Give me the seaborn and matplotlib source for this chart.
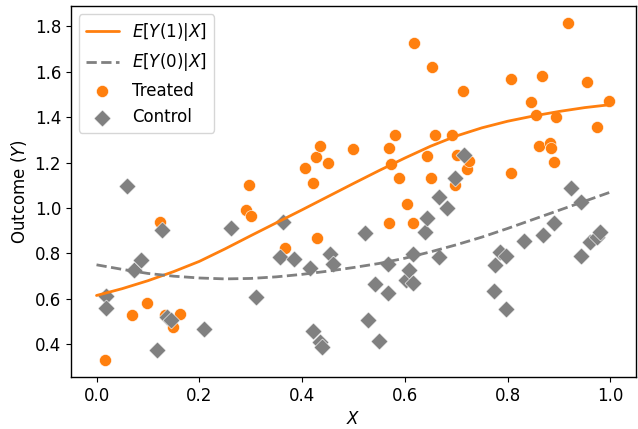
import numpy as np
import pandas as pd
import matplotlib as mpl
mpl.use('Agg')
import matplotlib.pyplot as plt
import seaborn as sns

# fitted curves
curve_x = [0.0, 0.05, 0.1, 0.15, 0.2, 0.25, 0.3, 0.35, 0.4, 0.45, 0.5,
           0.55, 0.6, 0.65, 0.7, 0.75, 0.8, 0.85, 0.9, 0.95, 1.0]
mu1 = [0.615, 0.645, 0.68, 0.72, 0.765, 0.82, 0.878, 0.935, 0.992, 1.05, 1.108,
       1.165, 1.22, 1.272, 1.317, 1.353, 1.382, 1.405, 1.425, 1.442, 1.455]
mu0 = [0.75, 0.73, 0.712, 0.70, 0.692, 0.688, 0.69, 0.697, 0.708, 0.722, 0.738,
       0.756, 0.779, 0.807, 0.838, 0.872, 0.91, 0.95, 0.99, 1.03, 1.07]

# treated units
x_treated = [0.017, 0.069, 0.099, 0.123, 0.133, 0.149, 0.163, 0.29, 0.297, 0.30,
             0.367, 0.406, 0.422, 0.428, 0.43, 0.435, 0.451, 0.499, 0.569, 0.569,
             0.573, 0.58, 0.589, 0.604, 0.615, 0.617, 0.643, 0.65, 0.652, 0.658,
             0.692, 0.697, 0.701, 0.713, 0.72, 0.724, 0.806, 0.806, 0.845, 0.855,
             0.862, 0.866, 0.882, 0.885, 0.89, 0.895, 0.918, 0.954, 0.974, 0.997]
y_treated = [0.33, 0.531, 0.582, 0.939, 0.528, 0.476, 0.532, 0.993, 1.10, 0.964,
             0.826, 1.178, 1.108, 1.225, 0.87, 1.272, 1.20, 1.258, 1.262, 0.936,
             1.192, 1.32, 1.13, 1.017, 0.936, 1.725, 1.229, 1.13, 1.622, 1.32,
             1.32, 1.10, 1.233, 1.516, 1.17, 1.208, 1.567, 1.155, 1.466, 1.409,
             1.275, 1.58, 1.285, 1.265, 1.203, 1.401, 1.815, 1.555, 1.355, 1.472]

# control units
x_control = [0.019, 0.019, 0.059, 0.073, 0.086, 0.117, 0.128, 0.138, 0.145, 0.21,
             0.262, 0.31, 0.358, 0.363, 0.384, 0.415, 0.422, 0.435, 0.438, 0.454,
             0.46, 0.522, 0.528, 0.541, 0.549, 0.567, 0.567, 0.602, 0.608, 0.615,
             0.615, 0.64, 0.643, 0.666, 0.667, 0.682, 0.697, 0.716, 0.774, 0.775,
             0.785, 0.797, 0.797, 0.831, 0.868, 0.89, 0.924, 0.942, 0.943, 0.961,
             0.974, 0.98]
y_control = [0.611, 0.56, 1.096, 0.729, 0.773, 0.374, 0.905, 0.52, 0.507, 0.469,
             0.912, 0.608, 0.785, 0.939, 0.777, 0.738, 0.459, 0.41, 0.388, 0.799,
             0.752, 0.89, 0.509, 0.664, 0.413, 0.755, 0.626, 0.682, 0.726, 0.67,
             0.799, 0.895, 0.958, 1.049, 0.785, 1.002, 1.13, 1.233, 0.635, 0.748,
             0.807, 0.79, 0.554, 0.854, 0.883, 0.934, 1.089, 0.788, 1.027, 0.851,
             0.873, 0.895]

curves = pd.DataFrame({"x": curve_x, "mu1": mu1, "mu0": mu0})
treated = pd.DataFrame({"x": x_treated, "y": y_treated})
control = pd.DataFrame({"x": x_control, "y": y_control})

sns.set_style("ticks", {"text.color": "black", "axes.labelcolor": "black",
                        "xtick.color": "black", "ytick.color": "black",
                        "axes.edgecolor": "black"})
plt.rcParams['font.family'] = ['DejaVu Sans']
plt.rcParams['font.size'] = 12
plt.rcParams['axes.linewidth'] = 1.0

fig, ax = plt.subplots(figsize=(6.38, 4.29), dpi=100)
fig.subplots_adjust(left=0.111, right=0.997, bottom=0.121, top=0.986)

sns.lineplot(data=curves, x="x", y="mu1", color="#ff7f0e", linewidth=2,
             label="$E[Y(1)|X]$", ax=ax)
sns.lineplot(data=curves, x="x", y="mu0", color="gray", linewidth=2,
             linestyle="--", label="$E[Y(0)|X]$", ax=ax)
sns.scatterplot(data=treated, x="x", y="y", color="#ff7f0e", s=75,
                marker="o", linewidth=0.4, label="Treated", ax=ax)
sns.scatterplot(data=control, x="x", y="y", color="gray", s=75,
                marker="D", linewidth=0.4, label="Control", ax=ax)

ax.tick_params(labelsize=12)
ax.set_xlabel("$X$", fontsize=12)
ax.set_ylabel("Outcome ($Y$)", fontsize=12)
ax.legend(loc="upper left", fontsize=12)

plt.savefig("out.png", dpi=100)
